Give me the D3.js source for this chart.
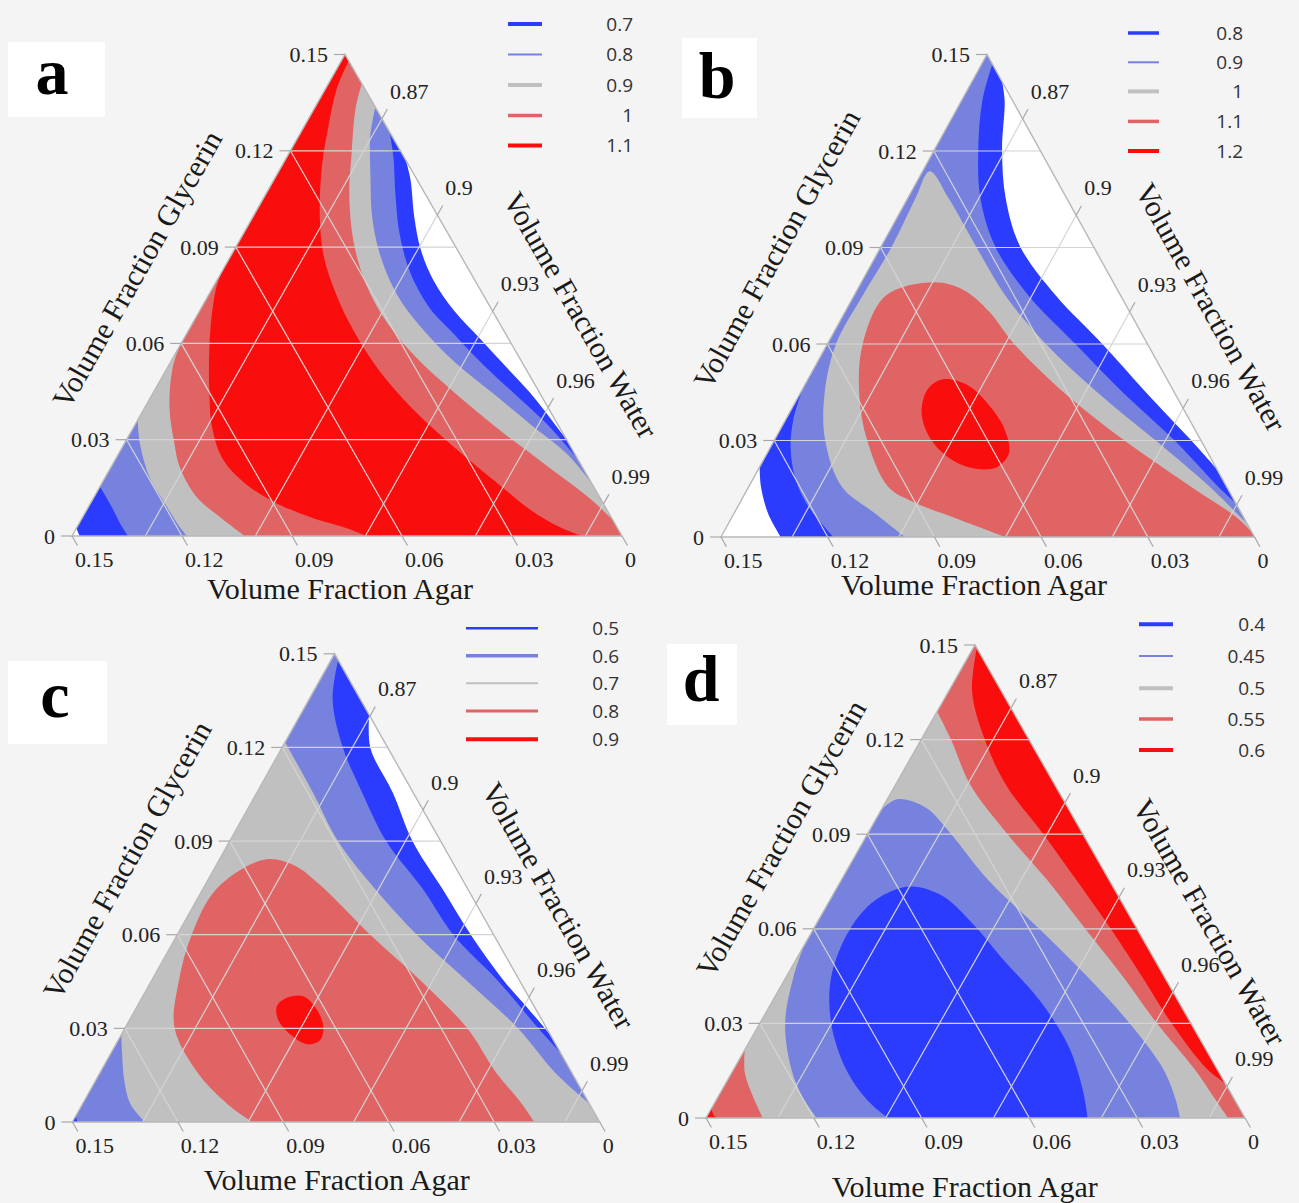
<!DOCTYPE html>
<html>
<head>
<meta charset="utf-8">
<script src="https://cdn.jsdelivr.net/npm/d3@7"></script>
<style>
  body { margin: 0; background: #f4f4f4; }
  svg { display: block; }
</style>
</head>
<body>
<div id="chart"></div>
<script>
// fill colour of each band, lowest level first
const bandColors = ["#ffffff", "#2b3cff", "#7682de", "#c0c0c0", "#e06464", "#fa0d0d"];

// axis ticks
const glyTicks = [0, 0.03, 0.06, 0.09, 0.12, 0.15];
const agarTicks = [0.15, 0.12, 0.09, 0.06, 0.03, 0];
const waterTicks = [0.87, 0.9, 0.93, 0.96, 0.99];

// legend levels per panel
const levelsA = ["0.7", "0.8", "0.9", "1", "1.1"];
const levelsB = ["0.8", "0.9", "1", "1.1", "1.2"];
const levelsC = ["0.5", "0.6", "0.7", "0.8", "0.9"];
const levelsD = ["0.4", "0.45", "0.5", "0.55", "0.6"];

// contour lines, points are [agar, glycerin]
// panel a
const aC07R = [[0,0.117],[0.0017,0.1112],[0.0067,0.0991],[0.0099,0.0894],[0.0113,0.0797],[0.0104,0.070],[0.0078,0.0616],[0.0052,0.0531],[0.0026,0.0446],[0.0012,0.0373],[0,0.030]];
const aC08R = [[0,0.1258],[0.0027,0.1185],[0.0082,0.1064],[0.0132,0.0943],[0.0164,0.0822],[0.0167,0.0712],[0.0141,0.0628],[0.0109,0.0531],[0.0066,0.0434],[0.0029,0.0349],[0,0.024]];
const aC09R = [[0,0.1336],[0.0059,0.1246],[0.0120,0.1124],[0.0182,0.0991],[0.0220,0.087],[0.0235,0.0749],[0.0221,0.0652],[0.0184,0.0543],[0.0129,0.0446],[0.0075,0.0349],[0.002,0.0252],[0,0.016]];
const aC10R = [[0,0.1409],[0.0057,0.133],[0.0141,0.1185],[0.0208,0.1064],[0.027,0.0918],[0.0303,0.0785],[0.0306,0.0664],[0.0281,0.0555],[0.0232,0.0446],[0.0172,0.0337],[0.0101,0.0228],[0.003,0.0119],[0,0.005]];
const aC11R = [[0,0.148],[0.0078,0.1391],[0.0162,0.127],[0.024,0.1149],[0.0325,0.0991],[0.0375,0.087],[0.0401,0.0749],[0.041,0.064],[0.0403,0.0519],[0.0372,0.0397],[0.0318,0.0276],[0.0258,0.0167],[0.0209,0.0082],[0.0156,0.0028],[0.011,0]];
const aC11L = [[0.0606,0.0894],[0.0699,0.0797],[0.0765,0.070],[0.0834,0.0579],[0.0895,0.0458],[0.0948,0.0337],[0.0968,0.024],[0.0947,0.0167],[0.0897,0.0107],[0.0818,0.0058],[0.0733,0.0022],[0.0698,0]];
const aC10L = [[0.0909,0.0591],[0.0965,0.0519],[0.1034,0.0397],[0.1075,0.029],[0.1098,0.0215],[0.1099,0.0122],[0.1067,0.0059],[0.1029,0]];
const aC09L = [[0.1139,0.0361],[0.1169,0.029],[0.1196,0.0184],[0.1196,0.0112],[0.1192,0.0028],[0.1187,0]];
const aC08L = [[0.1346,0.0154],[0.1346,0.0091],[0.1349,0.004],[0.1347,0]];
const aC07L = [[0.1475,0.0025],[0.1478,0.001],[0.1479,0]];
// panel b
const bC08R = [[0,0.1415],[0.0023,0.1355],[0.0106,0.1204],[0.0172,0.1052],[0.0206,0.0904],[0.0182,0.075],[0.0127,0.0601],[0.0079,0.0448],[0.0028,0.0302],[0,0.021]];
const bC09R = [[0,0.147],[0.0086,0.1355],[0.0173,0.1204],[0.0243,0.1052],[0.0276,0.0904],[0.0259,0.075],[0.0203,0.0601],[0.0144,0.0448],[0.0075,0.0302],[0.0024,0.0157],[0,0.0105]];
const bC10 = [[0.0983,0],[0.103,0.0073],[0.1082,0.0157],[0.1056,0.0302],[0.0984,0.0448],[0.0875,0.0601],[0.0726,0.075],[0.0566,0.0904],[0.0426,0.1052],[0.0343,0.1137],[0.0332,0.1052],[0.033,0.0904],[0.0324,0.075],[0.0286,0.0601],[0.0215,0.0448],[0.0129,0.0302],[0.0048,0.0157],[0,0.004]];
const bC11 = [[0.07,0],[0.0802,0.0054],[0.0905,0.0109],[0.0952,0.0157],[0.0938,0.0302],[0.0887,0.0448],[0.08,0.0601],[0.0661,0.075],[0.0504,0.0792],[0.0433,0.0768],[0.0395,0.0702],[0.0375,0.0601],[0.031,0.0448],[0.0217,0.0302],[0.0101,0.0157],[0.0019,0.006],[0,0.0015]];
const bC12 = [[0.0632,0.049],[0.057,0.0472],[0.0541,0.0411],[0.0535,0.0333],[0.056,0.026],[0.0614,0.0218],[0.0676,0.0212],[0.0732,0.0242],[0.0758,0.0308],[0.0742,0.0387],[0.0688,0.046]];
const bC08L = [[0.1282,0.0218],[0.1309,0.0157],[0.1331,0.0073],[0.1332,0]];
const bC09L = [[0.104,0.046],[0.1115,0.0363],[0.1165,0.0278],[0.12,0.0181],[0.1207,0.0097],[0.1184,0]];
// panel c
const cC05R = [[0,0.1304],[0.005,0.1198],[0.0058,0.1056],[0.008,0.0899],[0.0072,0.0748],[0.0065,0.06],[0.0045,0.0452],[0.002,0.036],[0,0.028]];
const cC06R = [[0,0.148],[0.008,0.1352],[0.0128,0.1198],[0.0145,0.1056],[0.0155,0.0899],[0.0128,0.0748],[0.0115,0.06],[0.0062,0.0452],[0.0024,0.0301],[0,0.022]];
const cC07R = [[0.0283,0.1217],[0.0285,0.1056],[0.0292,0.0899],[0.0264,0.0748],[0.0219,0.06],[0.015,0.0452],[0.0082,0.0301],[0.0047,0.0157],[0,0.006]];
const cC07L = [[0.122,0.028],[0.1249,0.0218],[0.1286,0.0132],[0.1306,0.0058],[0.1293,0]];
const cC06L = [[0.148,0.002],[0.1484,0.0008],[0.1485,0]];
const cC08 = [[0.0988,0],[0.103,0.0058],[0.1064,0.0157],[0.1058,0.0301],[0.097,0.0452],[0.0859,0.06],[0.0713,0.0748],[0.0529,0.0841],[0.0455,0.0822],[0.0414,0.076],[0.0351,0.06],[0.0281,0.0452],[0.0226,0.0301],[0.0215,0.0157],[0.0192,0.0058],[0.0186,0]];
const cC09 = [[0.0692,0.0397],[0.0641,0.0403],[0.0624,0.0366],[0.0633,0.0304],[0.0665,0.0261],[0.0707,0.0249],[0.0739,0.028],[0.075,0.0329],[0.0731,0.0372]];
// panel d
const dC060U = [[0,0.149],[0.0083,0.135],[0.0123,0.12],[0.0136,0.1057],[0.011,0.0901],[0.0091,0.0752],[0.0073,0.06],[0.0062,0.0448],[0.0054,0.0301],[0.0028,0.0155],[0,0.011]];
const dC055U = [[0.0211,0.1289],[0.0217,0.12],[0.0235,0.1057],[0.021,0.0901],[0.0172,0.0752],[0.0144,0.06],[0.0115,0.0448],[0.0095,0.0301],[0.0063,0.0155],[0.0053,0.0057],[0.0047,0]];
const dC050U = [[0.0522,0.0978],[0.0461,0.1011],[0.0395,0.0984],[0.0367,0.0901],[0.0336,0.0752],[0.0272,0.06],[0.0214,0.0448],[0.0171,0.0301],[0.015,0.0155],[0.0164,0.0057],[0.0181,0]];
const dC045 = [[0.0994,0],[0.1023,0.0057],[0.1033,0.0155],[0.1001,0.0301],[0.0927,0.0448],[0.0798,0.06],[0.0682,0.0691],[0.0567,0.0734],[0.0489,0.0704],[0.045,0.0618],[0.0423,0.0509],[0.0385,0.0374],[0.0377,0.0228],[0.0409,0.0082],[0.0438,0]];
const dC050L = [[0.0955,0.0545],[0.1032,0.0448],[0.1129,0.0301],[0.1185,0.0155],[0.1198,0.0069],[0.1192,0]];
const dC055L = [[0.1284,0.0216],[0.132,0.0143],[0.1335,0.0069],[0.1342,0]];
const dC060L = [[0.147,0.003],[0.1474,0.0009],[0.1467,0]];

const rev = arr => arr.slice().reverse();

// painting order of the bands in each panel (corners close the shapes along the edges)
const panels = [
  { letter: "a", base: 5, levels: levelsA, regions: [
    { band: 4, parts: [aC11R, "BR"] }, { band: 4, parts: [aC11L, "BL"] },
    { band: 3, parts: [aC10R] }, { band: 3, parts: [aC10L, "BL"] },
    { band: 2, parts: [aC09R] }, { band: 2, parts: [aC09L, "BL"] },
    { band: 1, parts: [aC08R] }, { band: 1, parts: [aC08L, "BL"] },
    { band: 0, parts: [aC07R] }, { band: 0, parts: [aC07L, "BL"] }
  ]},
  { letter: "b", base: 0, levels: levelsB, regions: [
    { band: 1, parts: [bC08R, "BR", rev(bC08L), "T"] },
    { band: 2, parts: [bC09R, "BR", rev(bC09L), "T"] },
    { band: 3, parts: [bC10, "BR"] },
    { band: 4, parts: [bC11, "BR"] },
    { band: 5, closed: bC12 }
  ]},
  { letter: "c", base: 3, levels: levelsC, regions: [
    { band: 2, parts: [cC07R, "T"] }, { band: 2, parts: [cC07L, "BL"] },
    { band: 1, parts: [cC06R] }, { band: 1, parts: [cC06L, "BL"] },
    { band: 0, parts: [cC05R] },
    { band: 4, parts: [cC08] },
    { band: 5, closed: cC09 }
  ]},
  { letter: "d", base: 2, levels: levelsD, regions: [
    { band: 3, parts: [dC050U, "BR", "T"] }, { band: 3, parts: [dC050L, "BL"] },
    { band: 4, parts: [dC055U, "BR", "T"] }, { band: 4, parts: [dC055L, "BL"] },
    { band: 5, parts: [dC060U] }, { band: 5, parts: [dC060L, "BL"] },
    { band: 1, parts: [dC045] }
  ]}
];

// where each panel sits on the page
const layout = [
  { BL: [72, 536], T: [345, 54.5], BR: [622, 536],
    legend: { x1: 508, x2: 542, ys: [24, 54.5, 85, 115.5, 145.5], labelX: 633, widths: [4, 2, 4, 3.5, 4] },
    box: [8, 42, 97, 75], letterPos: [52, 94],
    gly: [137, 269], water: [581, 315], agar: [340, 588] },
  { BL: [721, 537], T: [987, 54.5], BR: [1254.5, 537],
    legend: { x1: 1128, x2: 1159, ys: [33, 62.3, 91.4, 121.4, 151], labelX: 1243, widths: [3.5, 2, 4, 3.5, 4] },
    box: [682, 38, 75, 80], letterPos: [717, 98],
    gly: [776.5, 249], water: [1211, 307], agar: [974, 584] },
  { BL: [72.4, 1122], T: [334.6, 653.8], BR: [599.7, 1122],
    legend: { x1: 466, x2: 538, ys: [628.3, 655.7, 683.3, 711, 739.3], labelX: 619, widths: [2.5, 3.5, 2, 3, 4] },
    box: [8, 661, 99, 83], letterPos: [55, 717],
    gly: [127, 860], water: [558.7, 905.7], agar: [336.7, 1179] },
  { BL: [706, 1118], T: [975, 645], BR: [1245, 1118],
    legend: { x1: 1139, x2: 1173, ys: [624.3, 656, 688.3, 719, 750], labelX: 1265, widths: [4, 2, 4, 3.5, 4] },
    box: [667, 644, 70, 81], letterPos: [701, 701],
    gly: [780.8, 838.5], water: [1210, 922], agar: [964.7, 1186.5] }
];

const serif = "'Liberation Serif', 'Times New Roman', serif";

const svg = d3.select("#chart").append("svg")
  .attr("width", 1299)
  .attr("height", 1203);

svg.append("rect").attr("width", 1299).attr("height", 1203).attr("fill", "#f4f4f4");

const smooth = d3.line().curve(d3.curveCatmullRom.alpha(0.5));
const smoothClosed = d3.line().curve(d3.curveCatmullRomClosed.alpha(0.5));

panels.forEach((panel, i) => {
  const L = layout[i];
  const yScale = d3.scaleLinear().domain([0, 0.15]).range([L.BL[1], L.T[1]]);
  const rightX = d3.scaleLinear().domain([0, 0.15]).range([L.BR[0], L.T[0]]);
  const agarW = d3.scaleLinear().domain([0, 0.15]).range([0, L.BR[0] - L.BL[0]]);
  const proj = (a, g) => [rightX(g) - agarW(a), yScale(g)];

  const corners = { T: proj(0, 0.15), BL: proj(0.15, 0), BR: proj(0, 0) };
  const tri = [corners.BL, corners.T, corners.BR];

  const g = svg.append("g");

  // clip to the triangle
  const clipId = "clip" + panel.letter;
  g.append("clipPath").attr("id", clipId)
    .append("path").attr("d", "M" + tri.join("L") + "Z");

  const fills = g.append("g").attr("clip-path", "url(#" + clipId + ")");
  fills.append("path")
    .attr("d", "M" + tri.join("L") + "Z")
    .attr("fill", bandColors[panel.base]);

  panel.regions.forEach(r => {
    let d;
    if (r.closed) {
      d = smoothClosed(r.closed.map(p => proj(p[0], p[1])));
    } else {
      d = "";
      r.parts.forEach(p => {
        if (typeof p === "string") {
          const c = corners[p];
          d += (d ? "L" : "M") + c[0] + "," + c[1];
        } else {
          const s = smooth(p.map(q => proj(q[0], q[1])));
          d += d ? "L" + s.slice(1) : s;
        }
      });
      d += "Z";
    }
    fills.append("path").attr("d", d).attr("fill", bandColors[r.band]);
  });

  // grid lines
  const grid = g.append("g").attr("stroke", "#d4d4d4").attr("stroke-width", 1.2);
  glyTicks.filter(v => v > 0 && v < 0.15).forEach(v => {
    const p1 = proj(0.15 - v, v), p2 = proj(0, v);
    grid.append("line").attr("x1", p1[0]).attr("y1", p1[1]).attr("x2", p2[0]).attr("y2", p2[1]);
  });
  agarTicks.filter(v => v > 0 && v < 0.15).forEach(v => {
    const p1 = proj(v, 0), p2 = proj(v, 0.15 - v);
    grid.append("line").attr("x1", p1[0]).attr("y1", p1[1]).attr("x2", p2[0]).attr("y2", p2[1]);
  });
  waterTicks.forEach(v => {
    const s = 1 - v;
    const p1 = proj(0, s), p2 = proj(s, 0);
    grid.append("line").attr("x1", p1[0]).attr("y1", p1[1]).attr("x2", p2[0]).attr("y2", p2[1]);
  });

  // triangle edges
  g.append("path")
    .attr("d", "M" + tri.join("L") + "Z")
    .attr("fill", "none")
    .attr("stroke", "#b8b8b8")
    .attr("stroke-width", 1.4);

  const unit = (from, to) => {
    const dx = to[0] - from[0], dy = to[1] - from[1];
    const len = Math.hypot(dx, dy);
    return [dx / len, dy / len];
  };
  const agarDir = unit(corners.T, corners.BR);
  const waterDir = unit(corners.BL, corners.T);
  const tickLen = 11;

  const ticks = g.append("g").attr("stroke", "#a8a8a8").attr("stroke-width", 1.2);
  const labels = g.append("g")
    .attr("font-family", serif)
    .attr("font-size", 22)
    .attr("fill", "#222");

  glyTicks.forEach(v => {
    const p = proj(0.15 - v, v);
    ticks.append("line").attr("x1", p[0]).attr("y1", p[1]).attr("x2", p[0] - tickLen).attr("y2", p[1]);
    labels.append("text").attr("x", p[0] - tickLen - 6).attr("y", p[1] + 7.5)
      .attr("text-anchor", "end").text(String(v));
  });
  agarTicks.forEach(v => {
    const p = proj(v, 0);
    ticks.append("line").attr("x1", p[0]).attr("y1", p[1])
      .attr("x2", p[0] + agarDir[0] * tickLen).attr("y2", p[1] + agarDir[1] * tickLen);
    labels.append("text").attr("x", p[0] + 3).attr("y", p[1] + 31)
      .attr("text-anchor", "start").text(String(v));
  });
  waterTicks.forEach(v => {
    const p = proj(0, 1 - v);
    ticks.append("line").attr("x1", p[0]).attr("y1", p[1])
      .attr("x2", p[0] + waterDir[0] * tickLen).attr("y2", p[1] + waterDir[1] * tickLen);
    labels.append("text").attr("x", p[0] + 8).attr("y", p[1] - 20)
      .attr("text-anchor", "start").text(String(v));
  });

  // axis titles
  const leftAngle = -Math.atan2(L.BL[1] - L.T[1], L.T[0] - L.BL[0]) * 180 / Math.PI;
  const rightAngle = Math.atan2(L.BR[1] - L.T[1], L.BR[0] - L.T[0]) * 180 / Math.PI;
  const title = (pos, angle, txt) => {
    g.append("text")
      .attr("transform", "translate(" + pos[0] + "," + pos[1] + ") rotate(" + angle + ")")
      .attr("text-anchor", "middle")
      .attr("dy", "0.35em")
      .attr("font-family", serif)
      .attr("font-size", 30)
      .attr("fill", "#1a1a1a")
      .text(txt);
  };
  title(L.gly, leftAngle, "Volume Fraction Glycerin");
  title(L.water, rightAngle, "Volume Fraction Water");
  title(L.agar, 0, "Volume Fraction Agar");

  // legend
  const lg = g.append("g");
  panel.levels.forEach((lev, k) => {
    const y = L.legend.ys[k];
    lg.append("line")
      .attr("x1", L.legend.x1).attr("x2", L.legend.x2)
      .attr("y1", y).attr("y2", y)
      .attr("stroke", bandColors[k + 1])
      .attr("stroke-width", L.legend.widths[k]);
    lg.append("text")
      .attr("x", L.legend.labelX).attr("y", y)
      .attr("dy", "0.36em")
      .attr("text-anchor", "end")
      .attr("font-family", "'Open Sans', 'Noto Sans', sans-serif")
      .attr("font-size", 19)
      .attr("fill", "#333")
      .text(lev);
  });

  // panel letter
  g.append("rect")
    .attr("x", L.box[0]).attr("y", L.box[1])
    .attr("width", L.box[2]).attr("height", L.box[3])
    .attr("fill", "#ffffff");
  g.append("text")
    .attr("x", L.letterPos[0]).attr("y", L.letterPos[1])
    .attr("text-anchor", "middle")
    .attr("font-family", serif)
    .attr("font-weight", "bold")
    .attr("font-size", 66)
    .attr("fill", "#000")
    .text(panel.letter);
});
</script>
</body>
</html>
